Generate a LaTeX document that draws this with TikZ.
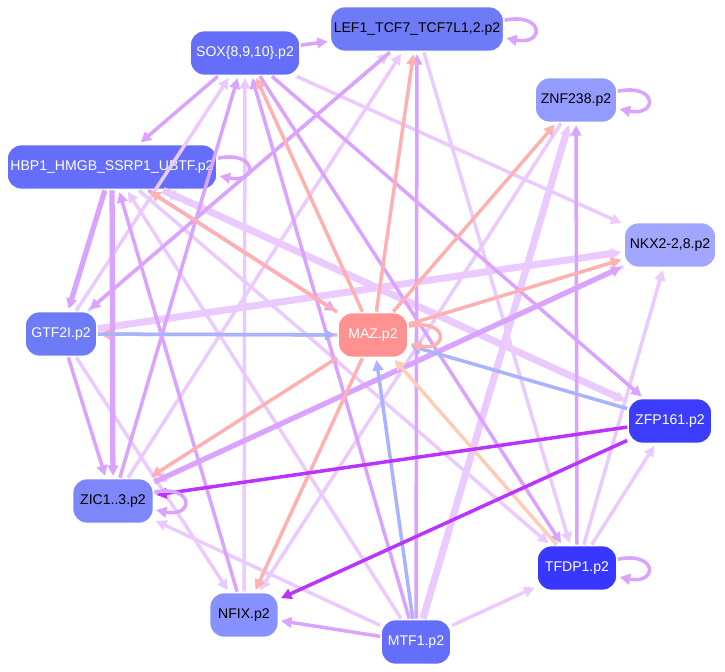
\documentclass[tikz,border=0pt]{standalone}
\usepackage{fontspec}
\setmainfont{Liberation Sans}
\usetikzlibrary{arrows.meta}
\definecolor{lpur}{HTML}{EBCBFF}
\definecolor{mpur}{HTML}{D9A3FF}
\definecolor{spur}{HTML}{BB33FF}
\definecolor{lpink}{HTML}{FFB0B0}
\definecolor{lblue}{HTML}{A8B4FF}
\definecolor{peach}{HTML}{FFCCB8}
\tikzset{
  gene/.style={draw=white, line width=1pt, rounded corners=8pt, minimum height=0.9cm,
    inner xsep=2pt, font=\fontsize{8}{9}\selectfont},
  edge/.style={-{Triangle[length=6pt,width=6pt]}, line width=2pt, shorten >=1pt},
}
\begin{document}
\begin{tikzpicture}[x=0.02cm, y=-0.02cm]
  \useasboundingbox (0,0) rectangle (725,672);

  % --- nodes
  \node[gene, fill={rgb,255:red,110;green,123;blue,247}, minimum width=3.45cm] (lef) at (417,29) {LEF1\_TCF7\_TCF7L1,2.p2};
  \node[gene, fill={rgb,255:red,100;green,110;blue,250}, text=white, minimum width=2.2cm] (sox) at (245,53) {SOX\{8,9,10\}.p2};
  \node[gene, fill={rgb,255:red,148;green,155;blue,255}, minimum width=1.64cm] (znf) at (576,100) {ZNF238.p2};
  \node[gene, fill={rgb,255:red,100;green,110;blue,250}, text=white, minimum width=4.2cm] (hbp) at (112,167) {HBP1\_HMGB\_SSRP1\_UBTF.p2};
  \node[gene, fill={rgb,255:red,162;green,166;blue,255}, minimum width=1.84cm] (nkx) at (670,245) {NKX2-2,8.p2};
  \node[gene, fill={rgb,255:red,110;green,123;blue,247}, text=white, minimum width=1.44cm] (gtf) at (61,334) {GTF2I.p2};
  \node[gene, fill={rgb,255:red,255;green,145;blue,145}, text=white, minimum width=1.4cm] (maz) at (373,335) {MAZ.p2};
  \node[gene, fill={rgb,255:red,60;green,60;blue,255}, text=white, minimum width=1.68cm] (zfp) at (670,421) {ZFP161.p2};
  \node[gene, fill={rgb,255:red,125;green,135;blue,250}, minimum width=1.62cm] (zic) at (113,501) {ZIC1..3.p2};
  \node[gene, fill={rgb,255:red,55;green,55;blue,255}, text=white, minimum width=1.6cm] (tfd) at (577,568) {TFDP1.p2};
  \node[gene, fill={rgb,255:red,135;green,145;blue,255}, minimum width=1.38cm] (nfx) at (244,615) {NFIX.p2};
  \node[gene, fill={rgb,255:red,100;green,110;blue,250}, text=white, minimum width=1.4cm] (mtf) at (416,642) {MTF1.p2};

  % --- light edges
  \foreach \a/\b in {gtf/lef, zic/lef, nfx/sox, mtf/hbp, mtf/tfd, tfd/zfp, tfd/nkx,
      znf/nfx, gtf/nfx, hbp/tfd, mtf/zic, zfp/hbp, sox/nkx, nkx/zic, lef/tfd, gtf/sox}
    \draw[edge, lpur] (\a) -- (\b);
  \foreach \a/\b in {mtf/znf, gtf/nkx, hbp/zfp}
    \draw[edge, lpur, line width=4pt] (\a) -- (\b);

  % --- medium edges
  \foreach \a/\b in {sox/lef, sox/hbp, mtf/lef, mtf/sox, mtf/nfx, tfd/znf, gtf/zic,
      sox/zfp, sox/tfd, nfx/hbp, zic/sox, lef/gtf, hbp/maz}
    \draw[edge, mpur] (\a) -- (\b);
  \foreach \a/\b in {zic/nkx, hbp/zic, hbp/gtf}
    \draw[edge, mpur, line width=3pt] (\a) -- (\b);

  % --- MAZ out edges
  \foreach \b in {sox, lef, znf, hbp, nkx, zic, nfx, gtf}
    \draw[edge, lpink] (maz) -- (\b);
  \draw[edge, lblue] (gtf) -- (maz);
  \draw[edge, lblue] (zfp) -- (maz);
  \draw[edge, lblue] (mtf) -- (maz);
  \draw[edge, peach] (tfd) -- (maz);

  % --- strong edges
  \draw[edge, spur] (zfp) -- (zic);
  \draw[edge, spur] (zfp) -- (nfx);

  % --- self loops
  \foreach \n/\c in {lef/mpur, znf/mpur, maz/lpink, zic/mpur, tfd/mpur, hbp/mpur}
    \draw[edge, \c] ([yshift=5pt]\n.east) .. controls +(40,-8) and +(40,8) .. ([yshift=-5pt]\n.east);
\end{tikzpicture}
\end{document}
